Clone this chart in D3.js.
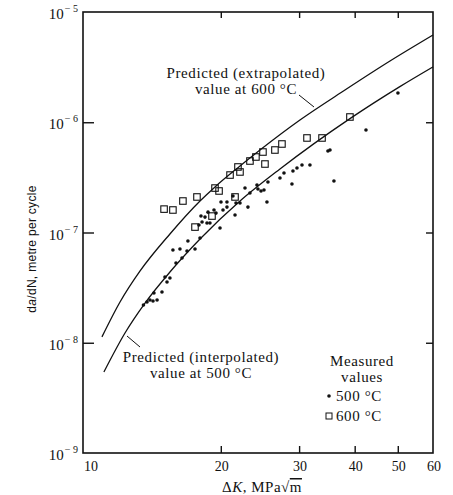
<!DOCTYPE html>
<html>
<head>
<meta charset="utf-8">
<script src="https://cdn.jsdelivr.net/npm/d3@7"></script>
<style>
  body { margin: 0; background: #fff; }
  text { fill: #111; }
</style>
</head>
<body>
<svg width="453" height="495"></svg>
<script>
// predicted curves (dK in MPa sqrt m, da/dN in m/cycle)
const curveK600 = [10.81, 11.87, 13.17, 15.37, 17.96, 19.41, 22.09, 24.5, 30.13, 38.04, 48.02, 60];
const curveV600 = [1.13e-8, 2.34e-8, 4.48e-8, 9.69e-8, 1.93e-7, 2.59e-7, 4.01e-7, 5.6e-7, 1.048e-6, 1.96e-6, 3.59e-6, 6.18e-6];
const curveK500 = [10.92, 12.18, 13.51, 15.37, 17.96, 22.09, 27.17, 39.03, 50.54, 60];
const curveV500 = [5.43e-9, 1.226e-8, 2.29e-8, 4.38e-8, 8.73e-8, 1.93e-7, 3.77e-7, 1.079e-6, 2.106e-6, 3.18e-6];

// measured values at 500 C (dots)
const dotK = [13.4, 13.65, 13.86, 14.08, 14.38, 14.15, 14.75, 14.98, 15.14, 15.37, 15.86, 16.36,
  15.61, 16.19, 16.79, 17.5, 16.87, 17.96, 17.86, 18.05, 18.43, 18.15, 18.62, 18.91, 18.72,
  19.31, 19.51, 19.92, 20.02, 20.23, 20.65, 20.65, 21.3, 21.64, 22.09, 21.53, 22.67, 23.26,
  23.02, 24.12, 24.24, 24.63, 25.01, 25.4, 25.53, 27.17, 27.74, 28.91, 29.06, 29.67, 30.45,
  31.73, 34.83, 35.2, 35.93, 42.41, 50.04];
const dotV = [2.2e-8, 2.34e-8, 2.44e-8, 2.39e-8, 2.44e-8, 2.83e-8, 2.89e-8, 3.95e-8, 3.56e-8, 3.87e-8, 5.29e-8, 5.87e-8,
  6.94e-8, 7.09e-8, 6.8e-8, 7.09e-8, 8.37e-8, 8.91e-8, 1.17e-7, 1.41e-7, 1.38e-7, 1.245e-7, 1.22e-7, 1.22e-7, 1.53e-7,
  1.6e-7, 1.5e-7, 1.1e-7, 1.89e-7, 1.6e-7, 1.89e-7, 1.7e-7, 2.14e-7, 1.85e-7, 1.85e-7, 1.44e-7, 2.53e-7, 2.28e-7,
  1.7e-7, 2.7e-7, 2.48e-7, 2.38e-7, 2.43e-7, 1.89e-7, 2.87e-7, 3.12e-7, 3.46e-7, 2.75e-7, 3.61e-7, 3.85e-7, 4.1e-7,
  4.1e-7, 5.48e-7, 5.6e-7, 2.93e-7, 8.51e-7, 1.84e-6];

// measured values at 600 C (squares)
const sqK = [14.91, 15.61, 16.44, 17.68, 17.5, 19.11, 19.41, 19.82, 20.98, 21.86, 22.09, 21.53,
  23.26, 23.99, 24.88, 25.14, 26.47, 27.45, 31.25, 33.78, 39.03];
const sqV = [1.63e-7, 1.6e-7, 1.93e-7, 2.1e-7, 1.12e-7, 1.41e-7, 2.53e-7, 2.38e-7, 3.32e-7, 3.93e-7, 3.54e-7, 2.1e-7,
  4.45e-7, 4.84e-7, 5.37e-7, 4.18e-7, 5.6e-7, 6.35e-7, 7.2e-7, 7.2e-7, 1.116e-6];

const xTicks = [10, 20, 30, 40, 50, 60];
const yTicks = [1e-9, 1e-8, 1e-7, 1e-6, 1e-5];

const serif = "'Liberation Serif', 'Times New Roman', serif";

const svg = d3.select("svg");

const x = d3.scaleLog().domain([9.8, 60]).range([83, 433]);
const y = d3.scaleLog().domain([1e-9, 1e-5]).range([453, 12]);

// inner ticks
svg.append("g")
    .attr("transform", `translate(0,${y.range()[0]})`)
    .call(d3.axisBottom(x).tickValues([20, 30, 40, 50]).tickSize(-7).tickFormat(""));
svg.append("g")
    .attr("transform", `translate(0,${y.range()[1]})`)
    .call(d3.axisTop(x).tickValues([20, 30, 40, 50]).tickSize(-6).tickFormat(""));
svg.append("g")
    .attr("transform", `translate(${x.range()[0]},0)`)
    .call(d3.axisLeft(y).tickValues([1e-8, 1e-7, 1e-6]).tickSize(-11).tickFormat(""));
svg.append("g")
    .attr("transform", `translate(${x.range()[1]},0)`)
    .call(d3.axisRight(y).tickValues([1e-8, 1e-7, 1e-6]).tickSize(-7).tickFormat(""));

svg.selectAll(".domain").remove();
svg.selectAll(".tick line").attr("stroke", "#111").attr("stroke-width", 1.4);

// frame
svg.append("rect")
    .attr("x", x.range()[0]).attr("y", y.range()[1])
    .attr("width", x.range()[1] - x.range()[0])
    .attr("height", y.range()[0] - y.range()[1])
    .attr("fill", "none").attr("stroke", "#111").attr("stroke-width", 1.6);

// x tick labels
svg.selectAll("text.xl").data(xTicks).enter()
    .append("text").attr("class", "xl")
    .attr("x", d => d == 10 ? x(d) + 4 : x(d) + 1)
    .attr("y", 471)
    .attr("text-anchor", "middle")
    .style("font", `14px ${serif}`)
    .text(d => d);

// y tick labels 10^-n
let yl = svg.selectAll("text.yl").data(yTicks).enter()
    .append("text").attr("class", "yl")
    .attr("x", 78)
    .attr("y", d => y(d) + 7)
    .attr("text-anchor", "end")
    .style("font", `15px ${serif}`);
yl.append("tspan").text("10");
yl.append("tspan").attr("dy", -7).attr("dx", 1).style("font-size", "10px")
    .text(d => "\u2212 " + (-Math.round(Math.log10(d))));

// axis titles
svg.append("text")
    .attr("transform", "translate(36,249) rotate(-90)")
    .attr("text-anchor", "middle")
    .style("font", "12px 'Liberation Sans', Arial, sans-serif")
    .style("letter-spacing", "0.3px")
    .html("d<tspan font-style='italic'>a</tspan>/dN, metre per cycle");

let xt = svg.append("text")
    .attr("x", 262).attr("y", 492)
    .attr("text-anchor", "middle")
    .style("font", `15px ${serif}`)
    .style("letter-spacing", "0.5px");
xt.append("tspan").text("\u0394");
xt.append("tspan").attr("font-style", "italic").text("K");
xt.append("tspan").text(", MPa\u221A");
xt.append("tspan").style("text-decoration", "overline").text("m");

// predicted curves
const line = d3.line()
    .x(d => x(d[0]))
    .y(d => y(d[1]))
    .curve(d3.curveMonotoneX);

svg.append("path")
    .datum(d3.zip(curveK600, curveV600))
    .attr("d", line)
    .attr("fill", "none").attr("stroke", "#111").attr("stroke-width", 1.3);
svg.append("path")
    .datum(d3.zip(curveK500, curveV500))
    .attr("d", line)
    .attr("fill", "none").attr("stroke", "#111").attr("stroke-width", 1.3);

// measured points
svg.selectAll("circle.m500").data(d3.zip(dotK, dotV)).enter()
    .append("circle").attr("class", "m500")
    .attr("cx", d => x(d[0])).attr("cy", d => y(d[1]))
    .attr("r", 1.8).attr("fill", "#111");

const sq = 6.5;
svg.selectAll("rect.m600").data(d3.zip(sqK, sqV)).enter()
    .append("rect").attr("class", "m600")
    .attr("x", d => x(d[0]) - sq / 2).attr("y", d => y(d[1]) - sq / 2)
    .attr("width", sq).attr("height", sq)
    .attr("fill", "none").attr("stroke", "#111").attr("stroke-width", 1.1);

// annotations
function label(lines, cx, y0) {
    lines.forEach((t, i) => {
        svg.append("text")
            .attr("x", cx).attr("y", y0 + i * 16)
            .attr("text-anchor", "middle")
            .style("font", `15px ${serif}`)
            .style("letter-spacing", "0.6px")
            .text(t);
    });
}
label(["Predicted (extrapolated)", "value at 600 \u00B0C"], 246, 78);
label(["Predicted (interpolated)", "value at 500 \u00B0C"], 201, 362);

svg.append("line").attr("x1", 299).attr("y1", 95).attr("x2", 314).attr("y2", 107)
    .attr("stroke", "#111").attr("stroke-width", 1);
svg.append("line").attr("x1", 140).attr("y1", 347).attr("x2", 127).attr("y2", 336)
    .attr("stroke", "#111").attr("stroke-width", 1);

// legend
label(["Measured", "values"], 362, 366);
svg.append("circle").attr("cx", 329).attr("cy", 396).attr("r", 1.8).attr("fill", "#111");
svg.append("text").attr("x", 336).attr("y", 401).style("font", `15px ${serif}`)
    .style("letter-spacing", "0.6px").text("500 \u00B0C");
svg.append("rect").attr("x", 326).attr("y", 413).attr("width", 6).attr("height", 6)
    .attr("fill", "none").attr("stroke", "#111").attr("stroke-width", 1);
svg.append("text").attr("x", 336).attr("y", 421).style("font", `15px ${serif}`)
    .style("letter-spacing", "0.6px").text("600 \u00B0C");
</script>
</body>
</html>
